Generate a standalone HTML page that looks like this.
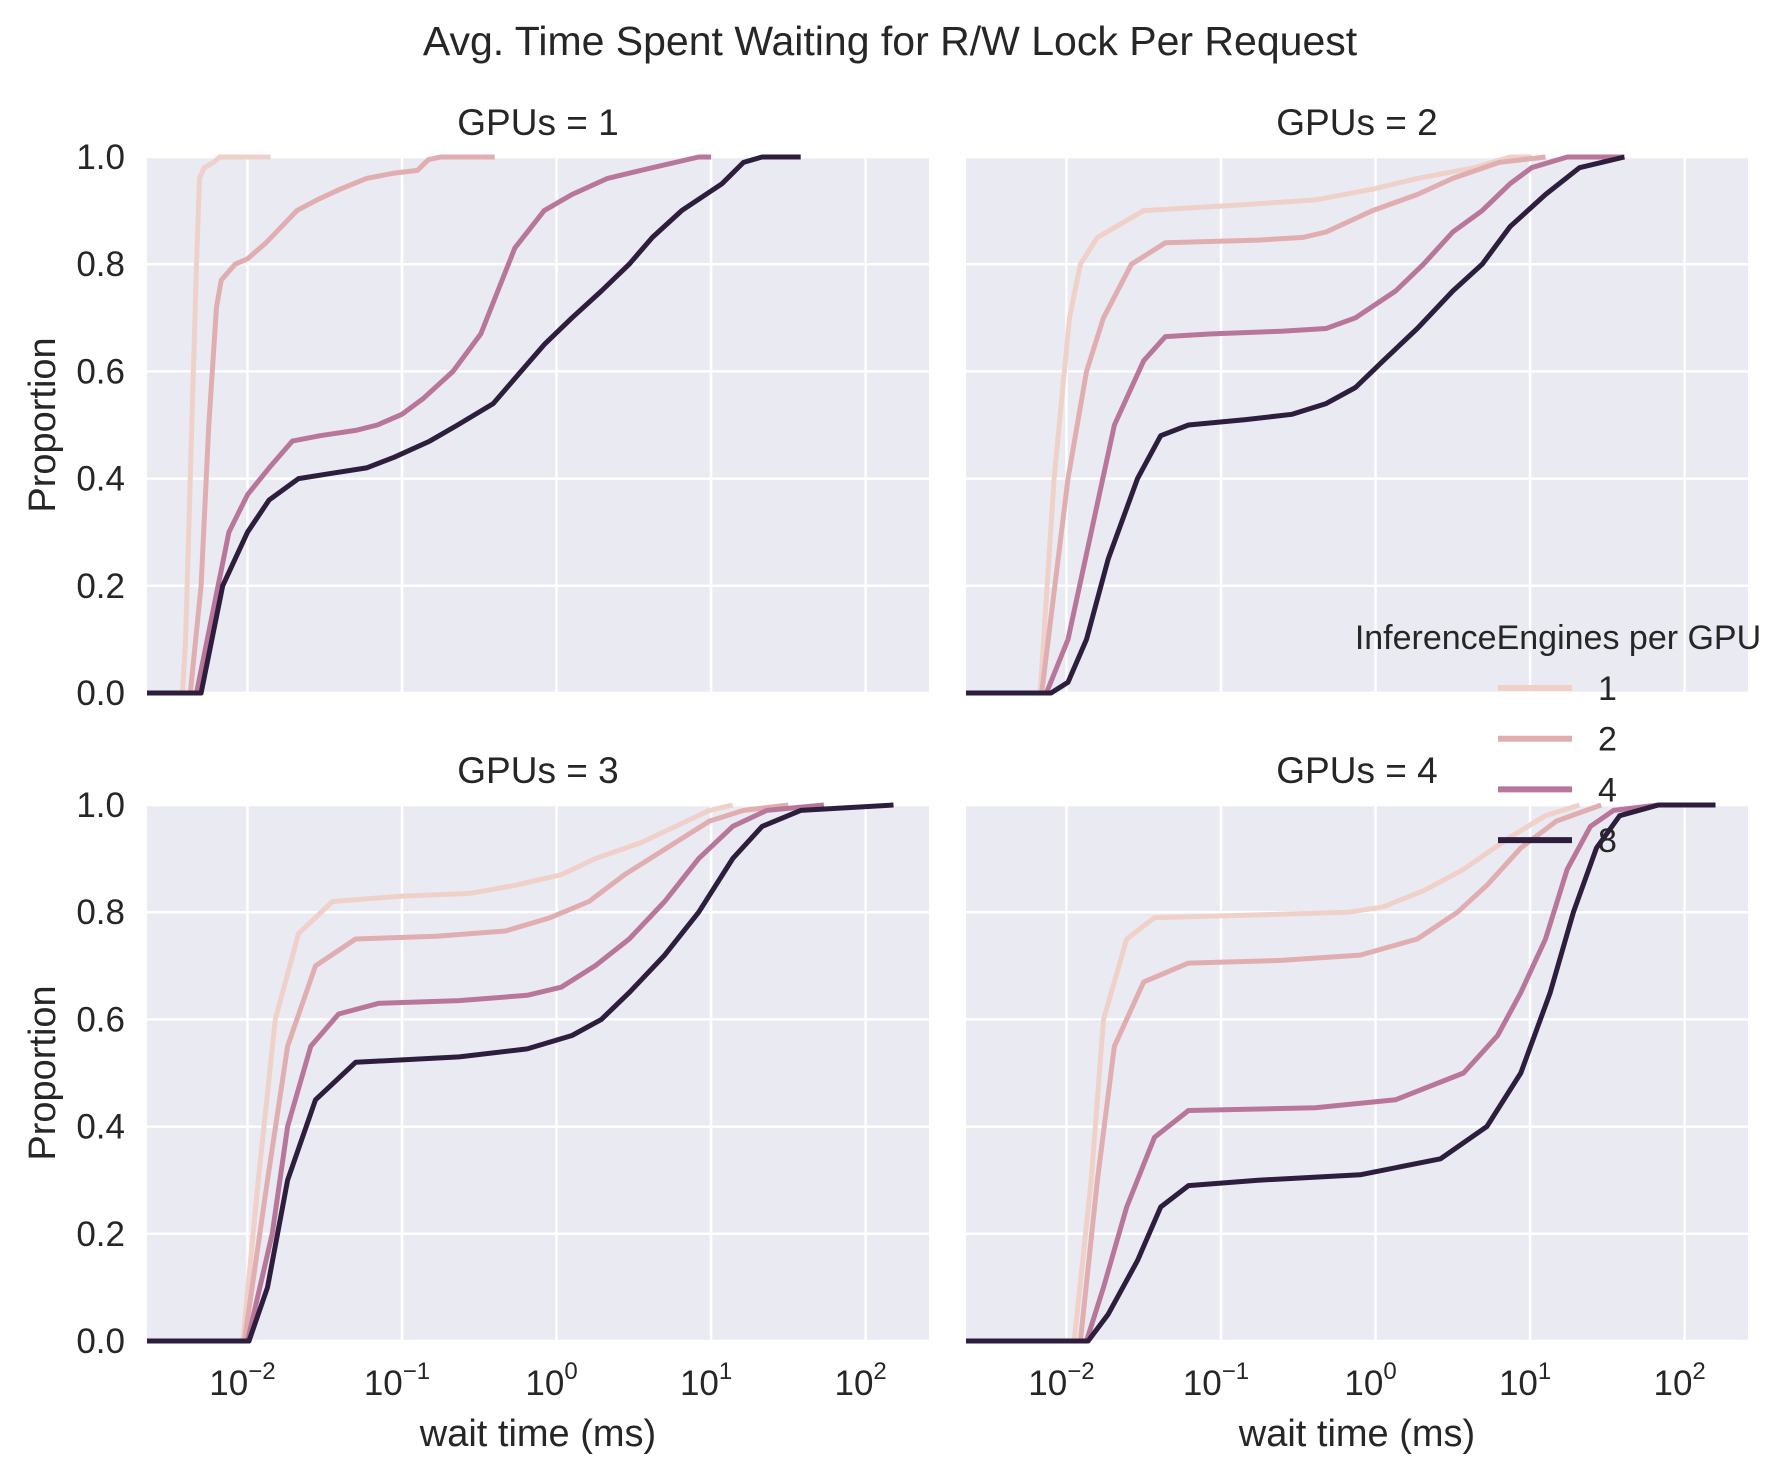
<!DOCTYPE html>
<html><head><meta charset="utf-8">
<style>
html,body{margin:0;padding:0;background:#fff;}
svg{display:block;font-family:"Liberation Sans",sans-serif;}
</style></head>
<body>
<svg id="chart" width="1790" height="1476" viewBox="0 0 1790 1476" xmlns="http://www.w3.org/2000/svg">
<text x="890" y="55" font-size="41" text-anchor="middle" fill="#262626">Avg. Time Spent Waiting for R/W Lock Per Request</text>
</svg>
<script>
const gpuPanels = [1, 2, 3, 4];
const engineCounts = [1, 2, 4, 8];
const yTicks = [0, 0.2, 0.4, 0.6, 0.8, 1.0];
const yTickLabels = ["0.0", "0.2", "0.4", "0.6", "0.8", "1.0"];
const xTickExps = [-2, -1, 0, 1, 2];
// Each series: [log10(wait ms), proportion] pairs
const g1e1 = [[-2.65,0],[-2.42,0],[-2.40,0.1],[-2.36,0.5],[-2.33,0.8],[-2.31,0.96],[-2.28,0.98],[-2.22,0.99],[-2.18,1.0],[-1.85,1.0]];
const g1e2 = [[-2.65,0],[-2.37,0],[-2.3,0.2],[-2.25,0.5],[-2.2,0.72],[-2.17,0.77],[-2.08,0.8],[-2.0,0.81],[-1.88,0.84],[-1.78,0.87],[-1.68,0.9],[-1.55,0.92],[-1.4,0.94],[-1.23,0.96],[-1.05,0.97],[-0.9,0.975],[-0.83,0.995],[-0.75,1.0],[-0.4,1.0]];
const g1e4 = [[-2.65,0],[-2.33,0],[-2.19,0.2],[-2.12,0.3],[-2.0,0.37],[-1.86,0.42],[-1.71,0.47],[-1.53,0.48],[-1.3,0.49],[-1.16,0.5],[-1.0,0.52],[-0.86,0.55],[-0.67,0.6],[-0.49,0.67],[-0.38,0.75],[-0.27,0.83],[-0.08,0.9],[0.1,0.93],[0.33,0.96],[0.62,0.98],[0.92,1.0],[1.0,1.0]];
const g1e8 = [[-2.65,0],[-2.3,0],[-2.16,0.2],[-2.0,0.3],[-1.86,0.36],[-1.67,0.4],[-1.45,0.41],[-1.23,0.42],[-1.05,0.44],[-0.82,0.47],[-0.64,0.5],[-0.41,0.54],[-0.23,0.6],[-0.08,0.65],[0.1,0.7],[0.29,0.75],[0.47,0.8],[0.62,0.85],[0.81,0.9],[1.07,0.95],[1.21,0.99],[1.33,1.0],[1.58,1.0]];
const g2e1 = [[-2.65,0],[-2.17,0],[-2.08,0.4],[-1.98,0.7],[-1.91,0.8],[-1.8,0.85],[-1.5,0.9],[-0.91,0.91],[-0.39,0.92],[-0.02,0.94],[0.27,0.96],[0.64,0.98],[0.87,1.0],[1.01,1.0]];
const g2e2 = [[-2.65,0],[-2.16,0],[-1.99,0.4],[-1.87,0.6],[-1.76,0.7],[-1.58,0.8],[-1.36,0.84],[-0.76,0.845],[-0.47,0.85],[-0.32,0.86],[-0.02,0.9],[0.27,0.93],[0.5,0.96],[0.8,0.99],[1.1,1.0]];
const g2e4 = [[-2.65,0],[-2.13,0],[-1.99,0.1],[-1.84,0.3],[-1.69,0.5],[-1.5,0.62],[-1.36,0.665],[-1.06,0.67],[-0.61,0.675],[-0.32,0.68],[-0.13,0.7],[0.13,0.75],[0.31,0.8],[0.5,0.86],[0.69,0.9],[0.87,0.95],[1.01,0.98],[1.24,1.0],[1.61,1.0]];
const g2e8 = [[-2.65,0],[-2.1,0],[-1.99,0.02],[-1.87,0.1],[-1.73,0.25],[-1.54,0.4],[-1.39,0.48],[-1.21,0.5],[-0.84,0.51],[-0.54,0.52],[-0.32,0.54],[-0.13,0.57],[0.05,0.62],[0.27,0.68],[0.5,0.75],[0.69,0.8],[0.87,0.87],[1.1,0.93],[1.32,0.98],[1.61,1.0]];
const g3e1 = [[-2.65,0],[-2.03,0],[-1.93,0.3],[-1.82,0.6],[-1.67,0.76],[-1.45,0.82],[-1.0,0.83],[-0.56,0.835],[-0.27,0.85],[0.03,0.87],[0.25,0.9],[0.55,0.93],[0.77,0.96],[0.99,0.99],[1.14,1.0]];
const g3e2 = [[-2.65,0],[-2.02,0],[-1.87,0.3],[-1.74,0.55],[-1.56,0.7],[-1.3,0.75],[-0.78,0.755],[-0.33,0.765],[-0.04,0.79],[0.21,0.82],[0.44,0.87],[0.77,0.93],[0.99,0.97],[1.21,0.99],[1.5,1.0]];
const g3e4 = [[-2.65,0],[-2.0,0],[-1.84,0.2],[-1.74,0.4],[-1.59,0.55],[-1.41,0.61],[-1.15,0.63],[-0.63,0.635],[-0.19,0.645],[0.03,0.66],[0.25,0.7],[0.47,0.75],[0.7,0.82],[0.92,0.9],[1.14,0.96],[1.36,0.99],[1.73,1.0]];
const g3e8 = [[-2.65,0],[-1.99,0],[-1.87,0.1],[-1.74,0.3],[-1.56,0.45],[-1.3,0.52],[-0.63,0.53],[-0.19,0.545],[0.1,0.57],[0.29,0.6],[0.47,0.65],[0.7,0.72],[0.92,0.8],[1.14,0.9],[1.33,0.96],[1.58,0.99],[2.18,1.0]];
const g4e1 = [[-2.65,0],[-1.95,0],[-1.84,0.3],[-1.76,0.6],[-1.61,0.75],[-1.43,0.79],[-0.76,0.795],[-0.17,0.8],[0.05,0.81],[0.31,0.84],[0.57,0.88],[0.87,0.94],[1.1,0.98],[1.32,1.0]];
const g4e2 = [[-2.65,0],[-1.91,0],[-1.8,0.3],[-1.69,0.55],[-1.5,0.67],[-1.21,0.705],[-0.61,0.71],[-0.1,0.72],[0.27,0.75],[0.53,0.8],[0.72,0.85],[0.94,0.92],[1.17,0.97],[1.46,1.0]];
const g4e4 = [[-2.65,0],[-1.87,0],[-1.76,0.1],[-1.61,0.25],[-1.43,0.38],[-1.21,0.43],[-0.39,0.435],[0.13,0.45],[0.57,0.5],[0.79,0.57],[0.94,0.65],[1.1,0.75],[1.24,0.88],[1.39,0.96],[1.54,0.99],[1.83,1.0]];
const g4e8 = [[-2.65,0],[-1.86,0],[-1.73,0.05],[-1.54,0.15],[-1.39,0.25],[-1.21,0.29],[-0.76,0.3],[-0.1,0.31],[0.42,0.34],[0.72,0.4],[0.94,0.5],[1.13,0.65],[1.28,0.8],[1.43,0.92],[1.58,0.98],[1.83,1.0],[2.2,1.0]];
const panelSeries = [[g1e1,g1e2,g1e4,g1e8],[g2e1,g2e2,g2e4,g2e8],[g3e1,g3e2,g3e4,g3e8],[g4e1,g4e2,g4e4,g4e8]];

const colors = ["#efd1ca","#e0aeb0","#b8779a","#2d1e3e"];
const NS = "http://www.w3.org/2000/svg";
const svg = document.getElementById("chart");
const panelW = 782, panelH = 536;
const lefts = [147, 966], tops = [157, 805];
const xMin = -2.65, xMax = 2.41;
function mk(tag, attrs, parent) {
  const e = document.createElementNS(NS, tag);
  for (const k in attrs) e.setAttribute(k, attrs[k]);
  (parent || svg).appendChild(e);
  return e;
}
gpuPanels.forEach((g, i) => {
  const col = i % 2, row = Math.floor(i / 2);
  const x0 = lefts[col], y0 = tops[row];
  const sx = v => x0 + (v - xMin) / (xMax - xMin) * panelW;
  const sy = p => y0 + panelH - p * panelH;
  const grp = mk("g", {});
  
  
  const bg = mk("rect", {x: x0, y: y0, width: panelW, height: panelH, fill: "#eaeaf2"}, grp);
  
  
  yTicks.forEach((t, k) => {
    const l = mk("line", {x1: x0, x2: x0 + panelW, y1: sy(t), y2: sy(t), stroke: "#fff", "stroke-width": 2.5}, grp);
    
    
    if (col === 0) {
      const tx = mk("text", {x: x0 - 22, y: sy(t) + 12, "font-size": 35, "text-anchor": "end", fill: "#262626"}, grp);
      tx.textContent = yTickLabels[k];
      
      
    }
  });
  xTickExps.forEach(e => {
    const l = mk("line", {x1: sx(e), x2: sx(e), y1: y0, y2: y0 + panelH, stroke: "#fff", "stroke-width": 2.5}, grp);
    
    
    if (row === 1) {
      const tx = mk("text", {x: sx(e) - 5, y: 1395, "font-size": 35, "text-anchor": "middle", fill: "#262626"}, grp);
      
      
      tx.textContent = "10";
      const sup = mk("tspan", {dy: -16, "font-size": 24}, tx);
      sup.textContent = e < 0 ? "\u2212" + (-e) : String(e);
    }
  });
  panelSeries[i].forEach((s, k) => {
    const d = s.map((p, j) => (j ? "L" : "M") + sx(p[0]).toFixed(1) + "," + sy(p[1]).toFixed(1)).join("");
    const path = mk("path", {d: d, fill: "none", stroke: colors[k], "stroke-width": 5, "stroke-linejoin": "round"}, grp);
    
    
  });
  const tt = mk("text", {x: x0 + panelW / 2, y: y0 - 22, "font-size": 37, "text-anchor": "middle", fill: "#262626"}, grp);
  tt.textContent = "GPUs = " + g;
  
  
  if (row === 1) {
    const xl = mk("text", {x: x0 + panelW / 2, y: 1446, "font-size": 38, "text-anchor": "middle", fill: "#262626"}, grp);
    xl.textContent = "wait time (ms)";
    
    
  }
  if (col === 0) {
    const cy = y0 + panelH / 2;
    const yl = mk("text", {x: 0, y: 0, "font-size": 38, "text-anchor": "middle", fill: "#262626", transform: "translate(55," + cy + ") rotate(-90)"}, grp);
    yl.textContent = "Proportion";
    
    
  }
});
// legend
const lg = mk("g", {});


const lt = mk("text", {x: 1558, y: 649, "font-size": 34, "text-anchor": "middle", fill: "#262626"}, lg);
lt.textContent = "InferenceEngines per GPU";


engineCounts.forEach((n, k) => {
  const y = 688 + k * 50.7;
  const ln = mk("line", {x1: 1498, x2: 1572, y1: y, y2: y, stroke: colors[k], "stroke-width": 6}, lg);
  
  
  const t = mk("text", {x: 1598, y: y + 12, "font-size": 34, fill: "#262626"}, lg);
  t.textContent = String(n);
  
  
});
</script>
</body></html>
